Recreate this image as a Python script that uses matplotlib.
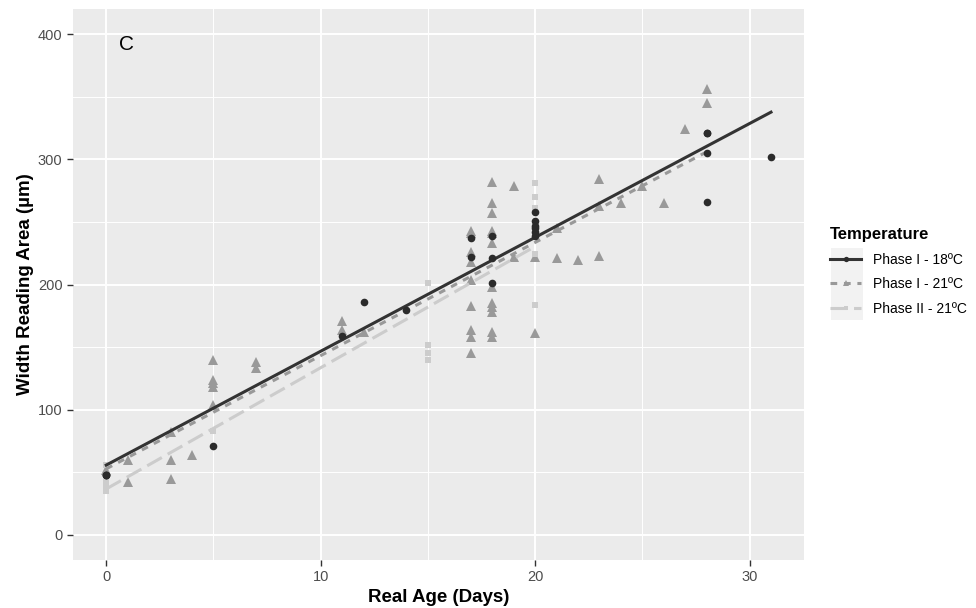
import numpy as np
import matplotlib.pyplot as plt
from matplotlib.lines import Line2D
from matplotlib.patches import Rectangle
from matplotlib.ticker import MultipleLocator

plt.rcParams['font.family'] = ['Liberation Sans', 'DejaVu Sans']

# Phase I - 18ºC (circles), some points overlap
age_18 = [0, 0, 0, 5, 11, 12, 14, 17, 17, 18, 18, 18, 20, 20, 20, 20, 20, 20, 28, 28, 28, 28, 31]
width_18 = [48, 48, 48, 71, 159, 186, 180, 237, 222, 239, 221, 201, 258, 251, 247, 245, 242, 239, 321, 321, 305, 266, 302]

# Phase I - 21ºC (triangles)
age_21 = [0, 1, 1, 3, 3, 3, 4, 5, 5, 5, 5, 5, 7, 7, 11, 11, 12,
          17, 17, 17, 17, 17, 17, 17, 17, 17,
          18, 18, 18, 18, 18, 18, 18, 18, 18, 18, 18, 18,
          19, 19, 20, 20, 21, 21, 22, 23, 23, 23, 24, 25, 26, 27, 28, 28]
width_21 = [52, 60, 42, 82, 60, 45, 64, 140, 124, 121, 118, 104, 138, 133, 171, 164, 162,
            243, 241, 226, 218, 204, 183, 164, 158, 145,
            282, 265, 257, 243, 241, 233, 198, 185, 182, 178, 162, 158,
            279, 222, 222, 161, 245, 221, 220, 284, 263, 223, 265, 279, 265, 324, 356, 345]

# Phase II - 21ºC (squares)
age_p2 = [0, 0, 0, 0, 5, 15, 15, 15, 15, 20, 20, 20, 20, 20]
width_p2 = [35, 38, 42, 56, 83, 201, 152, 145, 140, 281, 270, 261, 224, 184]

groups = [
    ("Phase I - 18ºC", age_18, width_18, "#333333", "#2b2b2b", "o", 5.5, "-", 5),
    ("Phase I - 21ºC", age_21, width_21, "#999999", "#999999", "^", 7, (0, (2.2, 2.2)), 3),
    ("Phase II - 21ºC", age_p2, width_p2, "#CCCCCC", "#CCCCCC", "s", 5, (0, (5.5, 2.2)), 3),
]

fig = plt.figure(figsize=(9.76, 6.08), dpi=100)
ax = fig.add_axes([0.0748, 0.079, 0.7492, 0.906])
ax.set_facecolor("#EBEBEB")

handles = []
for label, x, y, lcol, pcol, mk, ms, ls, zp in groups:
    x = np.array(x, dtype=float)
    y = np.array(y, dtype=float)
    ax.plot(x, y, linestyle="none", marker=mk, markersize=ms, color=pcol,
            markeredgewidth=0, zorder=zp)
    slope, inter = np.polyfit(x, y, 1)
    xs = np.array([x.min(), x.max()])
    ax.plot(xs, inter + slope * xs, color=lcol, linewidth=2.2, linestyle=ls, zorder=4)
    handles.append(Line2D([], [], color=lcol, linewidth=2.2, linestyle=ls,
                          marker=mk, markersize=ms * 0.7, markerfacecolor=pcol,
                          markeredgewidth=0))

ax.set_xlim(-1.55, 32.55)
ax.set_ylim(-20, 420)
ax.xaxis.set_major_locator(MultipleLocator(10))
ax.xaxis.set_minor_locator(MultipleLocator(5))
ax.yaxis.set_major_locator(MultipleLocator(100))
ax.yaxis.set_minor_locator(MultipleLocator(50))
ax.grid(which="major", color="white", linewidth=1.4)
ax.grid(which="minor", color="white", linewidth=0.7)
ax.set_axisbelow(True)
for s in ax.spines.values():
    s.set_visible(False)
ax.tick_params(which="major", length=4, width=1, color="#333333",
               labelcolor="#4D4D4D", labelsize=10.5)
ax.tick_params(which="minor", length=0)

ax.set_xlabel("Real Age (Days)", fontsize=13.5, fontweight="bold", labelpad=3)
ax.set_ylabel("Width Reading Area (µm)", fontsize=13.5, fontweight="bold", labelpad=3)

ax.text(0.6, 392, "C", fontsize=15, color="black", va="center", ha="left")

# legend key background
fig.patches.append(Rectangle((831 / 976, 1 - 320 / 608), 32 / 976, 72 / 608,
                             transform=fig.transFigure, facecolor="#F2F2F2",
                             edgecolor="none", zorder=0))

leg = fig.legend(handles=handles, labels=[g[0] for g in groups],
                 title="Temperature", loc="upper left",
                 bbox_to_anchor=(0.845, 0.635), frameon=False,
                 fontsize=10, title_fontsize=12, handlelength=2.2,
                 handletextpad=0.9, labelspacing=0.75, borderaxespad=0)
leg.get_title().set_fontweight("bold")
leg._legend_box.align = "left"

fig.savefig("out.png", dpi=100)
